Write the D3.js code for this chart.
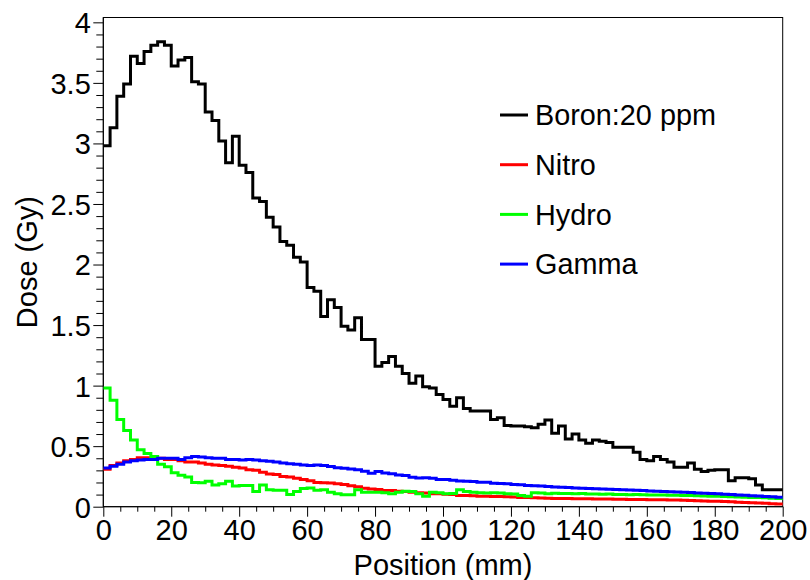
<!DOCTYPE html>
<html>
<head>
<meta charset="utf-8">
<script src="https://cdn.jsdelivr.net/npm/d3@7"></script>
<style>
  html, body { margin: 0; padding: 0; background: #fff; }
  svg { display: block; }
  text { font-family: "Liberation Sans", Arial, Helvetica, sans-serif; fill: #000; }
</style>
</head>
<body>
<svg id="chart" width="810" height="580"></svg>
<script>
// Depth-dose histograms: 100 bins of 2 mm each, from 0 to 200 mm.
const binEdges = { lo: 0, hi: 200, n: 100 };

const boron = [
  2.98, 3.13, 3.39, 3.49, 3.72, 3.66, 3.76, 3.81, 3.84, 3.81,
  3.64, 3.69, 3.71, 3.51, 3.49, 3.26, 3.19, 3.02, 2.84, 3.06,
  2.82, 2.76, 2.55, 2.52, 2.39, 2.31, 2.19, 2.16, 2.06, 2.02,
  1.81, 1.78, 1.57, 1.71, 1.645, 1.49, 1.46, 1.56, 1.38, 1.38,
  1.16, 1.19, 1.24, 1.16, 1.10, 1.02, 1.08, 0.99, 0.98, 0.926,
  0.885, 0.83, 0.90, 0.81, 0.79, 0.79, 0.79, 0.72, 0.735, 0.67,
  0.667, 0.667, 0.66, 0.653, 0.68, 0.715, 0.607, 0.667, 0.56, 0.60,
  0.55, 0.525, 0.55, 0.54, 0.53, 0.49, 0.49, 0.49, 0.45, 0.39,
  0.38, 0.415, 0.39, 0.37, 0.325, 0.325, 0.36, 0.31, 0.29, 0.30,
  0.305, 0.305, 0.215, 0.24, 0.24, 0.23, 0.18, 0.14, 0.14, 0.14
];

const nitro = [
  0.31, 0.34, 0.36, 0.38, 0.39, 0.405, 0.405, 0.40, 0.40, 0.39,
  0.39, 0.38, 0.37, 0.37, 0.36, 0.35, 0.345, 0.34, 0.335, 0.325,
  0.32, 0.305, 0.30, 0.285, 0.27, 0.265, 0.25, 0.245, 0.235, 0.225,
  0.215, 0.20, 0.197, 0.195, 0.189, 0.183, 0.172, 0.165, 0.153, 0.147,
  0.142, 0.134, 0.134, 0.128, 0.126, 0.12, 0.115, 0.113, 0.107, 0.107,
  0.102, 0.10, 0.093, 0.093, 0.09, 0.087, 0.087, 0.085, 0.085, 0.082,
  0.08, 0.076, 0.076, 0.074, 0.071, 0.07, 0.068, 0.067, 0.067, 0.066,
  0.065, 0.065, 0.064, 0.063, 0.063, 0.062, 0.061, 0.06, 0.06, 0.059,
  0.058, 0.057, 0.057, 0.056, 0.055, 0.054, 0.052, 0.05, 0.048, 0.046,
  0.044, 0.042, 0.04, 0.037, 0.035, 0.033, 0.03, 0.028, 0.025, 0.022
];

const hydro = [
  0.98, 0.88, 0.72, 0.63, 0.55, 0.47, 0.44, 0.415, 0.35, 0.33,
  0.28, 0.26, 0.245, 0.20, 0.197, 0.21, 0.18, 0.19, 0.21, 0.17,
  0.175, 0.175, 0.125, 0.18, 0.14, 0.135, 0.135, 0.10, 0.125, 0.15,
  0.155, 0.135, 0.14, 0.12, 0.107, 0.098, 0.098, 0.139, 0.12, 0.12,
  0.12, 0.115, 0.107, 0.12, 0.128, 0.126, 0.107, 0.087, 0.12, 0.115,
  0.107, 0.11, 0.139, 0.125, 0.12, 0.115, 0.113, 0.115, 0.113, 0.107,
  0.105, 0.093, 0.087, 0.115, 0.113, 0.107, 0.112, 0.11, 0.109, 0.107,
  0.108, 0.105, 0.104, 0.103, 0.104, 0.101, 0.10, 0.099, 0.10, 0.098,
  0.097, 0.096, 0.096, 0.095, 0.094, 0.093, 0.092, 0.09, 0.089, 0.087,
  0.086, 0.084, 0.083, 0.081, 0.079, 0.077, 0.075, 0.073, 0.07, 0.068
];

const gamma = [
  0.32, 0.335, 0.35, 0.37, 0.38, 0.385, 0.39, 0.39, 0.40, 0.40,
  0.40, 0.39, 0.405, 0.415, 0.41, 0.405, 0.40, 0.40, 0.39, 0.39,
  0.385, 0.39, 0.385, 0.38, 0.375, 0.37, 0.36, 0.355, 0.35, 0.345,
  0.34, 0.345, 0.34, 0.333, 0.322, 0.317, 0.311, 0.306, 0.292, 0.276,
  0.29, 0.279, 0.273, 0.262, 0.257, 0.243, 0.238, 0.24, 0.235, 0.224,
  0.224, 0.219, 0.213, 0.211, 0.208, 0.202, 0.202, 0.194, 0.192, 0.189,
  0.183, 0.181, 0.175, 0.173, 0.17, 0.167, 0.163, 0.161, 0.158, 0.155,
  0.153, 0.151, 0.149, 0.147, 0.145, 0.142, 0.14, 0.138, 0.135, 0.133,
  0.13, 0.128, 0.126, 0.124, 0.122, 0.12, 0.117, 0.114, 0.112, 0.109,
  0.106, 0.103, 0.10, 0.097, 0.094, 0.091, 0.088, 0.085, 0.082, 0.079
];

const seriesNames = ["Boron:20 ppm", "Nitro", "Hydro", "Gamma"];
const seriesColors = ["#000000", "#ff0000", "#00ff00", "#0000ff"];
const seriesValues = [boron, nitro, hydro, gamma];

const xTicks = [0, 20, 40, 60, 80, 100, 120, 140, 160, 180, 200];
const yTicks = [0, 0.5, 1, 1.5, 2, 2.5, 3, 3.5, 4];
const xTitle = "Position (mm)";
const yTitle = "Dose (Gy)";

// ---- layout ----
const frame = { left: 103.3, right: 782.7, top: 17.5, bottom: 506.7 };
const yMax = 4.04;
const fontSize = 29;

const svg = d3.select("#chart");

const x = d3.scaleLinear().domain([binEdges.lo, binEdges.hi]).range([frame.left, frame.right]);
const y = d3.scaleLinear().domain([0, yMax]).range([frame.bottom, frame.top]);

// frame box
svg.append("rect")
  .attr("x", frame.left).attr("y", frame.top)
  .attr("width", frame.right - frame.left).attr("height", frame.bottom - frame.top)
  .attr("fill", "none").attr("stroke", "#000").attr("stroke-width", 1);

// x axis: major every 20, minor every 5
const xMinor = d3.range(0, 201, 5).filter(v => v % 20 !== 0);
const xAxisMajor = d3.axisBottom(x).tickValues(xTicks).tickSize(10).tickFormat(d3.format("d"));
const xAxisMinor = d3.axisBottom(x).tickValues(xMinor).tickSize(5).tickFormat("");

const gxMinor = svg.append("g").attr("transform", `translate(0,${frame.bottom})`).call(xAxisMinor);
const gx = svg.append("g").attr("transform", `translate(0,${frame.bottom})`).call(xAxisMajor);
[gx, gxMinor].forEach(g => {
  g.select(".domain").remove();
  g.selectAll("line").attr("stroke", "#000").attr("stroke-width", 1);
});
gx.selectAll("text")
  .attr("font-size", fontSize)
  .attr("font-family", "Liberation Sans, Arial, sans-serif")
  .attr("fill", "#000")
  .attr("y", 13)
  .attr("dy", "0.71em");

// y axis: major every 0.5, minor every 0.1
const yMinor = d3.range(0, 41, 1).map(v => v / 10).filter(v => Math.abs(v * 2 - Math.round(v * 2)) > 1e-6);
const yAxisMajor = d3.axisLeft(y).tickValues(yTicks).tickSize(10).tickFormat(d3.format("~g"));
const yAxisMinor = d3.axisLeft(y).tickValues(yMinor).tickSize(7).tickFormat("");

const gyMinor = svg.append("g").attr("transform", `translate(${frame.left},0)`).call(yAxisMinor);
const gy = svg.append("g").attr("transform", `translate(${frame.left},0)`).call(yAxisMajor);
[gy, gyMinor].forEach(g => {
  g.select(".domain").remove();
  g.selectAll("line").attr("stroke", "#000").attr("stroke-width", 1);
});
gy.selectAll("text")
  .attr("font-size", fontSize)
  .attr("font-family", "Liberation Sans, Arial, sans-serif")
  .attr("fill", "#000")
  .attr("x", -12.5)
  .attr("dy", "0.36em");

// axis lines
svg.append("line")
  .attr("x1", frame.left).attr("x2", frame.right)
  .attr("y1", frame.bottom).attr("y2", frame.bottom)
  .attr("stroke", "#000").attr("stroke-width", 1);
svg.append("line")
  .attr("x1", frame.left).attr("x2", frame.left)
  .attr("y1", frame.top).attr("y2", frame.bottom)
  .attr("stroke", "#000").attr("stroke-width", 1);

// axis titles
svg.append("text")
  .attr("x", (frame.left + frame.right) / 2)
  .attr("y", 575)
  .attr("text-anchor", "middle")
  .attr("font-size", fontSize)
  .text(xTitle);

svg.append("text")
  .attr("transform", `translate(37,${(frame.top + frame.bottom) / 2}) rotate(-90)`)
  .attr("text-anchor", "middle")
  .attr("font-size", fontSize)
  .text(yTitle);

// histograms
svg.append("clipPath").attr("id", "plot-clip")
  .append("rect")
  .attr("x", frame.left).attr("y", frame.top - 2)
  .attr("width", frame.right - frame.left + 2).attr("height", frame.bottom - frame.top + 2);

const binWidth = (binEdges.hi - binEdges.lo) / binEdges.n;
const stepLine = d3.line()
  .x(d => x(d[0]))
  .y(d => y(d[1]))
  .curve(d3.curveStepAfter);

const histG = svg.append("g").attr("clip-path", "url(#plot-clip)");
seriesValues.forEach((vals, i) => {
  const pts = vals.map((v, k) => [binEdges.lo + k * binWidth, v]);
  pts.push([binEdges.hi, vals[vals.length - 1]]);
  histG.append("path")
    .datum(pts)
    .attr("d", stepLine)
    .attr("fill", "none")
    .attr("stroke", seriesColors[i])
    .attr("stroke-width", 3)
    .attr("stroke-linejoin", "miter")
    .attr("stroke-linecap", "butt");
});

// legend
const legend = { x: 500, y0: 115, dy: 49.7, lineLen: 28, textGap: 7 };
seriesNames.forEach((name, i) => {
  const yy = legend.y0 + i * legend.dy;
  svg.append("line")
    .attr("x1", legend.x).attr("x2", legend.x + legend.lineLen)
    .attr("y1", yy).attr("y2", yy)
    .attr("stroke", seriesColors[i]).attr("stroke-width", 3);
  svg.append("text")
    .attr("x", legend.x + legend.lineLen + legend.textGap)
    .attr("y", yy)
    .attr("dy", "0.36em")
    .attr("font-size", 28.8)
    .text(name);
});
</script>
</body>
</html>
